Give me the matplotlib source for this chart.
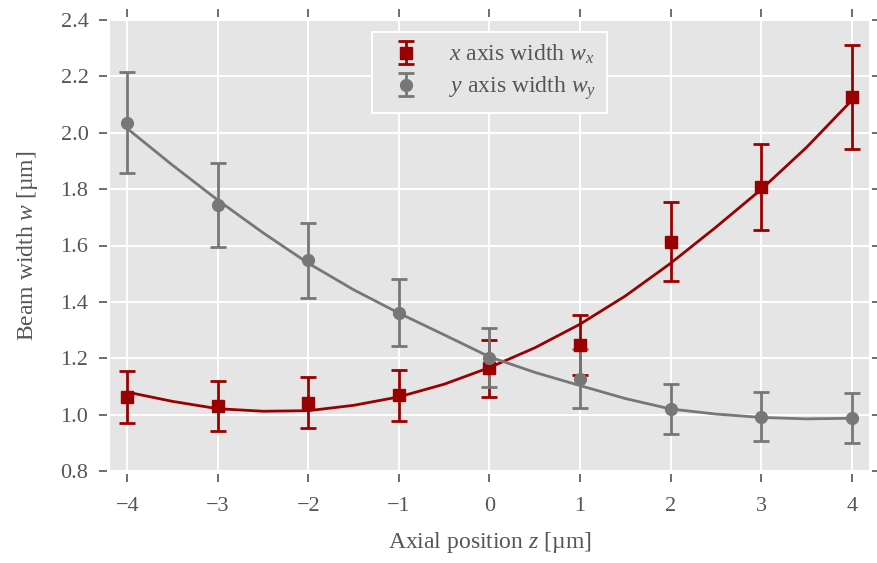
import matplotlib
matplotlib.use("Agg")
import matplotlib.pyplot as plt

# Measured beam widths (µm) with uncertainties at each axial position
z_pos = [-4, -3, -2, -1, 0, 1, 2, 3, 4]
wx = [1.064, 1.031, 1.043, 1.069, 1.164, 1.247, 1.613, 1.808, 2.127]
wx_err = [0.092, 0.090, 0.091, 0.091, 0.101, 0.108, 0.140, 0.153, 0.186]
wy = [2.036, 1.744, 1.547, 1.362, 1.202, 1.127, 1.019, 0.993, 0.987]
wy_err = [0.178, 0.148, 0.134, 0.118, 0.104, 0.105, 0.088, 0.088, 0.088]

# Fitted beam-width curves
z_fit = [-4, -3.5, -3, -2.5, -2, -1.5, -1, -0.5, 0, 0.5, 1, 1.5, 2, 2.5, 3, 3.5, 4]
wx_fit = [1.080, 1.047, 1.021, 1.012, 1.014, 1.033, 1.063, 1.108, 1.167, 1.237,
          1.321, 1.421, 1.537, 1.665, 1.799, 1.948, 2.115]
wy_fit = [2.015, 1.885, 1.761, 1.645, 1.537, 1.443, 1.360, 1.283, 1.205, 1.150,
          1.103, 1.057, 1.020, 1.002, 0.990, 0.985, 0.987]

x_ticks = [-4, -3, -2, -1, 0, 1, 2, 3, 4]
y_ticks = [0.8, 1.0, 1.2, 1.4, 1.6, 1.8, 2.0, 2.2, 2.4]

RED = "#990000"
GREY = "#777777"
TEXT = "#555555"

plt.rcParams.update({
    "font.family": ["Liberation Serif", "DejaVu Serif"],
    "mathtext.fontset": "custom",
    "mathtext.rm": "Liberation Serif",
    "mathtext.it": "Liberation Serif:italic",
    "font.size": 15,
    "text.color": TEXT,
    "axes.labelcolor": TEXT,
    "xtick.color": TEXT,
    "ytick.color": TEXT,
})

fig = plt.figure(figsize=(8.78, 5.63), dpi=100)
ax = fig.add_axes([110 / 878, 1 - 471 / 563, 759 / 878, 451 / 563])
ax.set_facecolor("#E5E5E5")
ax.grid(True, color="white", linewidth=1.4)
ax.set_axisbelow(True)

for side in ["left", "right", "top", "bottom"]:
    ax.spines[side].set_position(("outward", 2.5))
    ax.spines[side].set_visible(False)

ax.plot(z_fit, wx_fit, color=RED, linewidth=2.0, zorder=2)
ax.plot(z_fit, wy_fit, color=GREY, linewidth=2.0, zorder=2)

ax.errorbar(z_pos, wx, yerr=wx_err, fmt="s", color=RED, ms=8.5,
            elinewidth=2.0, capsize=6, capthick=2.0,
            label=r"$x$ axis width $w_x$", zorder=3)
ax.errorbar(z_pos, wy, yerr=wy_err, fmt="o", color=GREY, ms=8.5,
            elinewidth=2.0, capsize=6, capthick=2.0,
            label=r"$y$ axis width $w_y$", zorder=3)

ax.set_xlim(-4.19, 4.19)
ax.set_ylim(0.8, 2.4)
ax.set_xticks(x_ticks)
ax.set_xticklabels(["\u2212" + str(-t) if t < 0 else str(t) for t in x_ticks])
ax.set_yticks(y_ticks)
ax.set_yticklabels([f"{t:.1f}" for t in y_ticks])
ax.tick_params(direction="out", length=6, width=1.2, pad=7,
               top=True, right=True, labeltop=False, labelright=False,
               labelsize=16)
ax.tick_params(axis="x", pad=10)

ax.set_xlabel(r"Axial position $z$ [µm]", fontsize=17, labelpad=10)
ax.set_ylabel(r"Beam width $w$ [µm]", fontsize=17, labelpad=15)

leg = ax.legend(loc="upper center", bbox_to_anchor=(0.5, 0.973), fontsize=17,
                frameon=True, fancybox=False, numpoints=1,
                borderaxespad=0, handlelength=2.0, handletextpad=0.8,
                borderpad=0.45, labelspacing=0.35)
leg.get_frame().set_facecolor("#E5E5E5")
leg.get_frame().set_edgecolor("white")
leg.get_frame().set_linewidth(1.4)
leg.get_frame().set_alpha(1)

fig.savefig("out.png", dpi=100)
